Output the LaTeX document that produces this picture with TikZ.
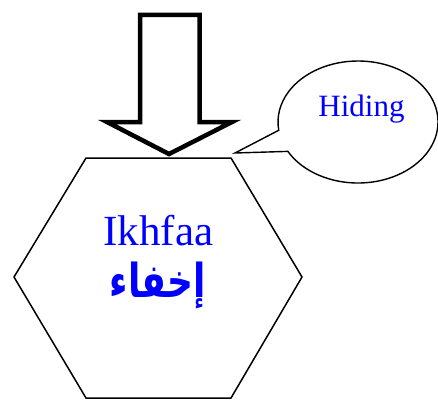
\documentclass[tikz,border=0pt]{standalone}
\usepackage{fontspec}
\setmainfont{Liberation Serif}
\newfontfamily\arabicfont[Script=Arabic]{DejaVu Sans}
\TeXXeTstate=1
\usetikzlibrary{shapes.callouts}

\begin{document}
\begin{tikzpicture}[x=1pt,y=-1pt,
    hexline/.style={line width=1.5pt},
    bigarrow/.style={line width=4.5pt, fill=white},
    bubble/.style={ellipse callout, draw, line width=1.4pt, minimum width=160, minimum height=122, inner sep=0pt, callout pointer arc=21},
    bluetext/.style={text=blue, inner sep=0pt}]
  \useasboundingbox (0,0) rectangle (438,404);
  % Hexagon
  \coordinate (h1) at (86,158);
  \coordinate (h2) at (231,158);
  \coordinate (h3) at (302,277);
  \coordinate (h4) at (231,398);
  \coordinate (h5) at (86,398);
  \coordinate (h6) at (14,277);
  \draw[hexline] (h1) -- (h2) -- (h3) -- (h4) -- (h5) -- (h6) -- cycle;
  \node[bluetext, anchor=base, font=\fontsize{43}{48}\selectfont] (ikhfaa) at (158.5,245) {Ikhfaa};
  \node[bluetext, anchor=base, font=\fontsize{36}{40}\selectfont\arabicfont\bfseries] (ikhfaaar) at (158,297) {\scalebox{1}[1.3]{\beginR إخفاء\endR}};
  % Arrow
  \draw[bigarrow] (140,15) -- (199.5,15) -- (199.5,122) -- (232,122) -- (169,154) -- (107,122) -- (140,122) -- cycle;
  % Callout
  \coordinate (hidetip) at (235,153);
  \node[bubble, callout absolute pointer=(hidetip)] (bubble) at (358,122) {};
  \node[bluetext, anchor=base, font=\fontsize{31}{36}\selectfont] (hiding) at (361.5,116) {Hiding};
\end{tikzpicture}
\end{document}
